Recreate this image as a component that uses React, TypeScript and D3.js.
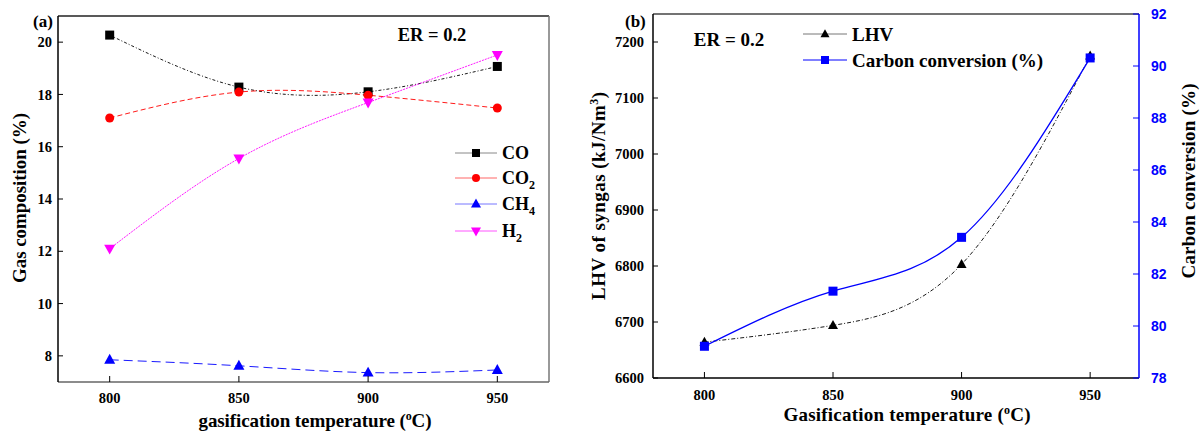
import React from "react";
import * as d3 from "d3";

const temps = [800, 850, 900, 950];
const xTicks = [800, 850, 900, 950];

// Panel (a)
const coVals = [20.27, 18.28, 18.1, 19.07];
const co2Vals = [17.1, 18.09, 17.97, 17.48];
const ch4Vals = [7.85, 7.62, 7.36, 7.46];
const h2Vals = [12.1, 15.55, 17.69, 19.51];
const aYTicks = [8, 10, 12, 14, 16, 18, 20];

// Panel (b)
const lhvVals = [6664, 6694, 6803, 7175];
const ccVals = [79.22, 81.34, 83.41, 90.31];
const bYTicks = [6600, 6700, 6800, 6900, 7000, 7100, 7200];
const bY2Ticks = [78, 80, 82, 84, 86, 88, 90, 92];

const serif = "'Liberation Serif', 'Times New Roman', serif";
const sans = "'Liberation Sans', Arial, sans-serif";

type Shape = "square" | "circle" | "up" | "down";

function Marker({ x, y, shape, color, s = 10 }: { x: number; y: number; shape: Shape; color: string; s?: number }) {
  if (shape === "square") return <rect x={x - s / 2} y={y - s / 2} width={s} height={s} fill={color} />;
  if (shape === "circle") return <circle cx={x} cy={y} r={s / 2} fill={color} />;
  const h = s * 0.9;
  if (shape === "up")
    return <path d={`M${x},${y - h * 0.6} L${x + s / 2},${y + h * 0.4} L${x - s / 2},${y + h * 0.4} Z`} fill={color} />;
  return <path d={`M${x},${y + h * 0.6} L${x + s / 2},${y - h * 0.4} L${x - s / 2},${y - h * 0.4} Z`} fill={color} />;
}

export default function App() {
  // Panel a geometry
  const aL = 58, aR = 549, aT = 16, aB = 382;
  const ax = d3.scaleLinear().domain([780, 970]).range([aL, aR]);
  const ay = d3.scaleLinear().domain([7, 21]).range([aB, aT]);
  const curve = d3.curveNatural;
  const lineA = d3.line<number>().x((_, i) => ax(temps[i])).y((d) => ay(d)).curve(curve);

  const aSeries = [
    { name: "CO", vals: coVals, color: "#000000", legendLine: "#888888", shape: "square" as Shape, dash: "3,2,1,2", s: 9 },
    { name: "CO2", vals: co2Vals, color: "#ff0000", legendLine: "#ff6666", shape: "circle" as Shape, dash: "5,3", s: 9 },
    { name: "CH4", vals: ch4Vals, color: "#0000ff", legendLine: "#7777ff", shape: "up" as Shape, dash: "9,5", s: 11 },
    { name: "H2", vals: h2Vals, color: "#ff00ff", legendLine: "#ff55ff", shape: "down" as Shape, dash: "2,1", s: 11 },
  ];
  const legendAY = [153, 178, 204, 231];

  // Panel b geometry
  const bL = 653, bR = 1139, bT = 14, bB = 378;
  const bx = d3.scaleLinear().domain([780, 969]).range([bL, bR]);
  const by = d3.scaleLinear().domain([6600, 7250]).range([bB, bT]);
  const by2 = d3.scaleLinear().domain([78, 92]).range([bB, bT]);
  const lineLHV = d3.line<number>().x((_, i) => bx(temps[i])).y((d) => by(d)).curve(curve);
  const lineCC = d3.line<number>().x((_, i) => bx(temps[i])).y((d) => by2(d)).curve(curve);

  const tickFont = { fontFamily: serif, fontWeight: 700, fontSize: 14.5 } as const;
  const titleFont = { fontFamily: serif, fontWeight: 700, fontSize: 19 } as const;

  return (
    <svg width={1203} height={434} style={{ display: "block", position: "absolute", left: 0, top: 0, background: "#fff" }}>
      {/* ---------- Panel (a) ---------- */}
      <g>
        {aSeries.map((s) => (
          <path key={s.name} d={lineA(s.vals) || ""} fill="none" stroke={s.color} strokeWidth={0.9} strokeDasharray={s.dash} />
        ))}
        {aSeries.map((s) =>
          s.vals.map((v, i) => <Marker key={s.name + i} x={ax(temps[i])} y={ay(v)} shape={s.shape} color={s.color} s={s.s} />)
        )}
        {/* frame */}
        <line x1={aL} y1={aT} x2={aR} y2={aT} stroke="#222" strokeWidth={1.5} />
        <line x1={aR} y1={aT} x2={aR} y2={aB} stroke="#777" strokeWidth={1.5} />
        <line x1={aL} y1={aB} x2={aR} y2={aB} stroke="#666" strokeWidth={1.5} />
        <line x1={aL} y1={aT} x2={aL} y2={aB} stroke="#000" strokeWidth={1.5} />
        {aYTicks.map((t) => (
          <g key={t}>
            <line x1={aL} x2={aL + 5} y1={ay(t)} y2={ay(t)} stroke="#000" strokeWidth={1} />
            <text x={aL - 6} y={ay(t)} dy="0.35em" textAnchor="end" {...tickFont}>{t}</text>
          </g>
        ))}
        {xTicks.map((t) => (
          <g key={t}>
            <line x1={ax(t)} x2={ax(t)} y1={aB} y2={aB - 6} stroke="#000" strokeWidth={1} />
            <text x={ax(t)} y={aB + 21} textAnchor="middle" {...tickFont}>{t}</text>
          </g>
        ))}
        <text x={33} y={27} fontFamily={serif} fontWeight={700} fontSize={17}>(a)</text>
        <text x={432} y={41} textAnchor="middle" fontFamily={serif} fontWeight={700} fontSize={18.5}>ER = 0.2</text>
        <text transform={`translate(26,198) rotate(-90)`} textAnchor="middle" textLength={170} lengthAdjust="spacing" {...titleFont}>
          Gas composition (%)
        </text>
        <text x={315} y={427} textAnchor="middle" textLength={233} lengthAdjust="spacing" {...titleFont}>
          gasification temperature (<tspan dy={-7} fontSize={12}>o</tspan><tspan dy={7}>C)</tspan>
        </text>
        {/* legend */}
        {aSeries.map((s, i) => (
          <g key={s.name}>
            <line x1={455} x2={497} y1={legendAY[i]} y2={legendAY[i]} stroke={s.legendLine} strokeWidth={1} />
            <Marker x={476} y={legendAY[i]} shape={s.shape} color={s.color} s={s.s - 1} />
            <text x={502} y={legendAY[i]} dy="0.35em" fontFamily={serif} fontWeight={700} fontSize={18}>
              {s.name === "CO" && "CO"}
              {s.name === "CO2" && (<>CO<tspan dy={5} fontSize={12}>2</tspan></>)}
              {s.name === "CH4" && (<>CH<tspan dy={5} fontSize={12}>4</tspan></>)}
              {s.name === "H2" && (<>H<tspan dy={5} fontSize={12}>2</tspan></>)}
            </text>
          </g>
        ))}
      </g>

      {/* ---------- Panel (b) ---------- */}
      <g>
        <path d={lineLHV(lhvVals) || ""} fill="none" stroke="#000" strokeWidth={0.9} strokeDasharray="4,2,1,2" />
        <path d={lineCC(ccVals) || ""} fill="none" stroke="#0000ff" strokeWidth={1.3} />
        {lhvVals.map((v, i) => <Marker key={"l" + i} x={bx(temps[i])} y={by(v)} shape="up" color="#000" s={10} />)}
        {ccVals.map((v, i) => <Marker key={"c" + i} x={bx(temps[i])} y={by2(v)} shape="square" color="#0000ff" s={9} />)}
        {/* frame */}
        <line x1={bL} y1={bT} x2={bR} y2={bT} stroke="#444" strokeWidth={1.5} />
        <line x1={bL} y1={bB} x2={bR} y2={bB} stroke="#000" strokeWidth={1.5} />
        <line x1={bL} y1={bT} x2={bL} y2={bB} stroke="#000" strokeWidth={1.5} />
        <line x1={bR} y1={bT} x2={bR} y2={bB} stroke="#0000ff" strokeWidth={1.5} />
        {bYTicks.map((t) => (
          <g key={t}>
            <line x1={bL} x2={bL + 5} y1={by(t)} y2={by(t)} stroke="#000" strokeWidth={1} />
            <text x={bL - 9} y={by(t)} dy="0.35em" textAnchor="end" {...tickFont}>{t}</text>
          </g>
        ))}
        {bY2Ticks.map((t) => (
          <g key={t}>
            <line x1={bR} x2={bR - 6} y1={by2(t)} y2={by2(t)} stroke="#0000ff" strokeWidth={1} />
            <text x={bR + 12} y={by2(t)} dy="0.36em" textAnchor="start" fontFamily={sans} fontWeight={700} fontSize={14} fill="#0000ff">{t}</text>
          </g>
        ))}
        {xTicks.map((t) => (
          <g key={t}>
            <line x1={bx(t)} x2={bx(t)} y1={bB} y2={bB - 6} stroke="#000" strokeWidth={1} />
            <text x={bx(t)} y={bB + 22} textAnchor="middle" {...tickFont}>{t}</text>
          </g>
        ))}
        <text x={625} y={27} fontFamily={serif} fontWeight={700} fontSize={17}>(b)</text>
        <text x={729} y={46} textAnchor="middle" fontFamily={serif} fontWeight={700} fontSize={19}>ER = 0.2</text>
        <text transform={`translate(605,196) rotate(-90)`} textAnchor="middle" textLength={208} lengthAdjust="spacing" {...titleFont}>
          LHV of syngas  (kJ/Nm<tspan dy={-7} fontSize={12}>3</tspan><tspan dy={7}>)</tspan>
        </text>
        <text transform={`translate(1195,181) rotate(-90)`} textAnchor="middle" textLength={195} lengthAdjust="spacing" {...titleFont}>
          Carbon conversion (%)
        </text>
        <text x={907} y={421} textAnchor="middle" textLength={247} lengthAdjust="spacing" {...titleFont}>
          Gasification temperature (<tspan dy={-7} fontSize={12}>o</tspan><tspan dy={7}>C)</tspan>
        </text>
        {/* legend */}
        <line x1={803} x2={847} y1={34} y2={34} stroke="#777" strokeWidth={1} />
        <Marker x={825} y={34} shape="up" color="#000" s={9} />
        <text x={852} y={34} dy="0.35em" fontFamily={serif} fontWeight={700} fontSize={19}>LHV</text>
        <line x1={803} x2={847} y1={60} y2={60} stroke="#0000ff" strokeWidth={1} />
        <Marker x={825} y={60} shape="square" color="#0000ff" s={8} />
        <text x={852} y={60} dy="0.35em" fontFamily={serif} fontWeight={700} fontSize={19}>Carbon conversion (%)</text>
      </g>
    </svg>
  );
}
